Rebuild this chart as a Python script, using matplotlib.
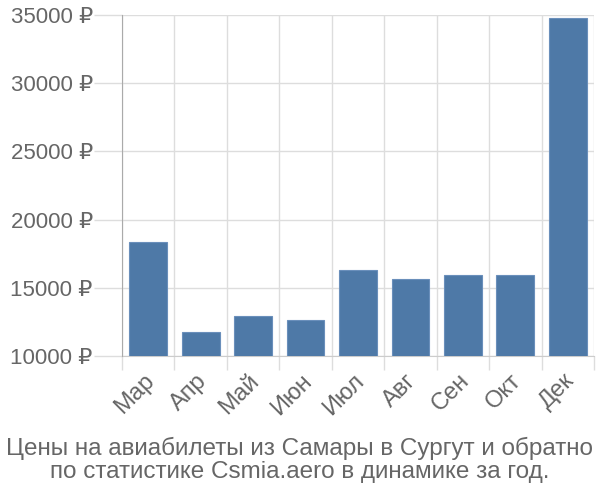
import matplotlib
matplotlib.use("Agg")
import matplotlib.pyplot as plt
import matplotlib.transforms as mtransforms
import numpy as np

months = ["Мар", "Апр", "Май", "Июн", "Июл", "Авг", "Сен", "Окт", "Дек"]
prices = [18350, 11750, 12900, 12650, 16330, 15610, 15970, 15930, 34800]
yticks = [10000, 15000, 20000, 25000, 30000, 35000]
caption = "Цены на авиабилеты из Самары в Сургут и обратно\nпо статистике Csmia.aero в динамике за год."

plt.rcParams['font.family'] = ['Liberation Sans', 'DejaVu Sans']
grey = '#666666'

fig = plt.figure(figsize=(6, 5), dpi=100)
ax = fig.add_axes([122/600, 1-356/500, (594-122)/600, (356-15)/500])

x = np.arange(len(months))
ax.bar(x, prices, width=0.72, color='#4e79a7', edgecolor='#6a8fbb', linewidth=0.8, zorder=3)
ax.set_xlim(-0.5, len(months) - 0.5)
ax.set_ylim(10000, 35000)

ax.set_yticks(yticks)
ax.set_yticklabels([f"{v} ₽" for v in yticks], fontsize=16, color=grey)
ax.tick_params(axis='y', length=20, color='#dddddd', width=1, pad=1)

ax.set_xticks(np.arange(len(months) + 1) - 0.5, minor=True)
ax.set_xticks(x)
ax.set_xticklabels(months, rotation=45, ha='right', rotation_mode='anchor', fontsize=17, color=grey)
ax.tick_params(axis='x', which='major', length=0, pad=10)
ax.tick_params(axis='x', which='minor', length=10, color='#dddddd', width=1)
offset = mtransforms.ScaledTranslation(-5/100, 0, fig.dpi_scale_trans)
for lbl in ax.get_xticklabels():
    lbl.set_transform(lbl.get_transform() + offset)

ax.grid(True, axis='y', color='#dddddd', linewidth=1, zorder=0)
ax.grid(True, axis='x', which='minor', color='#dddddd', linewidth=1, zorder=0)
ax.grid(False, axis='x', which='major')

for s in ['top', 'right']:
    ax.spines[s].set_visible(False)
ax.spines['left'].set_color('#aaaaaa')
ax.spines['bottom'].set_color('#cccccc')
ax.spines['left'].set_zorder(4)

fig.text(0.5, 1-460/500, caption, ha='center', va='center', fontsize=17.5, color=grey, linespacing=1.1)

fig.savefig("out.png", dpi=100)
